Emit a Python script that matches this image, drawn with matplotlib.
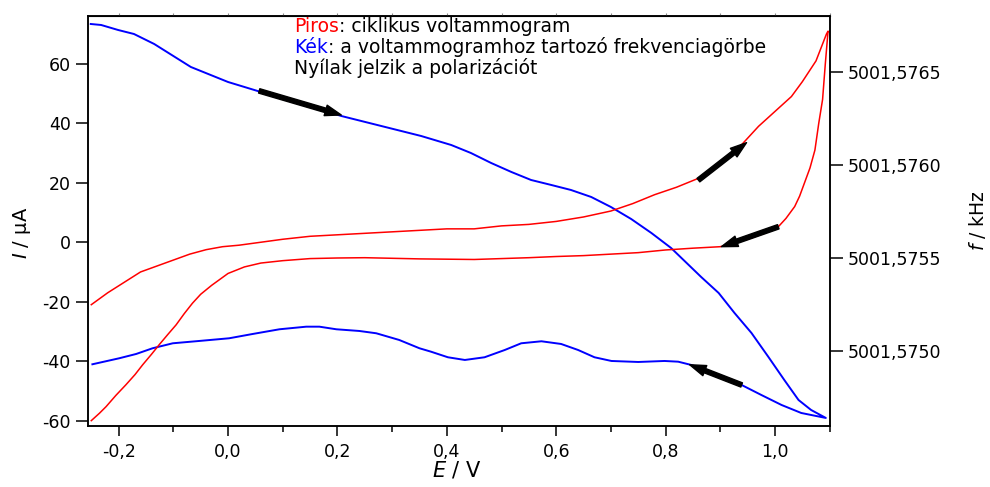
import matplotlib
matplotlib.use("Agg")
import matplotlib.pyplot as plt
from matplotlib.ticker import FuncFormatter, MultipleLocator, FixedLocator

plt.rcParams['font.family'] = ['DejaVu Sans']
plt.rcParams['axes.unicode_minus'] = False

# ciklikus voltammogram (piros), odafelé
red_fwd_E = [-0.25, -0.22, -0.19, -0.16, -0.13, -0.10, -0.07, -0.04, -0.01, 0.02, 0.06, 0.10, 0.15,
             0.20, 0.25, 0.30, 0.35, 0.40, 0.45, 0.50, 0.55, 0.60, 0.65, 0.70, 0.74, 0.78, 0.82,
             0.86, 0.90, 0.94, 0.97, 1.00, 1.03, 1.05, 1.075, 1.094, 1.097]
red_fwd_I = [-21, -17, -13.5, -10, -8, -6, -4, -2.5, -1.5, -1, 0, 1, 2,
             2.5, 3, 3.5, 4, 4.5, 4.5, 5.5, 6, 7, 8.5, 10.5, 13, 16, 18.5,
             21.5, 26, 33, 39, 44, 49, 54, 61, 70, 71]
# visszafelé
red_rev_E = [1.097, 1.092, 1.087, 1.08, 1.073, 1.064, 1.054, 1.045, 1.036, 1.02, 1.006, 0.98, 0.95,
             0.92, 0.90, 0.85, 0.80, 0.75, 0.70, 0.65, 0.60, 0.55, 0.50, 0.45, 0.40, 0.35, 0.30,
             0.25, 0.20, 0.15, 0.10, 0.06, 0.03, 0.0, -0.03, -0.05, -0.065, -0.08, -0.095, -0.11,
             -0.126, -0.14, -0.156, -0.17, -0.187, -0.205, -0.223, -0.235, -0.25]
red_rev_I = [71, 60, 48, 40, 31, 25, 20, 15.5, 12, 8, 5.2, 3, 1,
             -0.5, -1.5, -2, -2.6, -3.5, -4, -4.5, -4.8, -5.2, -5.5, -5.8, -5.7, -5.6, -5.4,
             -5.2, -5.3, -5.5, -6.2, -7, -8.3, -10.5, -14.5, -17.5, -20.5, -24, -27.8, -31,
             -34.5, -37.7, -41.2, -44.5, -48, -51.5, -55.3, -57.5, -60]

# frekvenciagörbe (kék), kHz
blue_E = [-0.251, -0.232, -0.201, -0.172, -0.135, -0.068, 0.000, 0.060, 0.134, 0.207, 0.280,
          0.353, 0.408, 0.444, 0.481, 0.518, 0.554, 0.591, 0.627, 0.664, 0.700, 0.737, 0.774,
          0.810, 0.865, 0.897, 0.926, 0.957, 0.988, 1.017, 1.043, 1.066, 1.093,
          1.048, 1.012, 0.975, 0.939, 0.902, 0.847, 0.823, 0.798, 0.750, 0.701, 0.670, 0.640,
          0.609, 0.573, 0.536, 0.506, 0.469, 0.433, 0.402, 0.371, 0.350, 0.313, 0.271, 0.240,
          0.198, 0.167, 0.143, 0.094, 0.045, 0.002, -0.053, -0.101, -0.138, -0.168, -0.199, -0.248]
blue_f = [5001.5767596, 5001.5767543, 5001.5767274, 5001.5767059, 5001.5766521, 5001.5765285,
          5001.5764478, 5001.5763941, 5001.5763296, 5001.5762651, 5001.5762113, 5001.5761575,
          5001.5761091, 5001.5760661, 5001.5760124, 5001.5759640, 5001.5759210, 5001.5758941,
          5001.5758672, 5001.5758296, 5001.5757758, 5001.5757113, 5001.5756360, 5001.5755554,
          5001.5753995, 5001.5753135, 5001.5752059, 5001.5750984, 5001.5749694, 5001.5748458,
          5001.5747382, 5001.5746845, 5001.5746415,
          5001.5746683, 5001.5747113, 5001.5747651, 5001.5748188, 5001.5748673, 5001.5749264,
          5001.5749441, 5001.5749479, 5001.5749425, 5001.5749479, 5001.5749678, 5001.5750070,
          5001.5750393, 5001.5750538, 5001.5750430, 5001.5750070, 5001.5749678, 5001.5749533,
          5001.5749678, 5001.5749979, 5001.5750162, 5001.5750608, 5001.5750968, 5001.5751092,
          5001.5751183, 5001.5751323, 5001.5751323, 5001.5751183, 5001.5750930, 5001.5750699,
          5001.5750554, 5001.5750430, 5001.5750162, 5001.5749855, 5001.5749624, 5001.5749301]

# nyilak (E, I) -> (E, I), a bal tengely egységeiben
arrows = [((0.057, 50.9), (0.207, 42.8)),
          ((0.86, 20.9), (0.948, 33.5)),
          ((1.006, 5.2), (0.902, -1.5)),
          ((0.939, -48.0), (0.844, -41.2))]

x_ticks = [-0.2, 0.0, 0.2, 0.4, 0.6, 0.8, 1.0]
i_ticks = [-60, -40, -20, 0, 20, 40, 60]
f_ticks = [5001.5750, 5001.5755, 5001.5760, 5001.5765]

fig = plt.figure(figsize=(9.9, 4.87), dpi=100)
ax = fig.add_axes([0.0889, 0.1253, 0.7495, 0.8425])
ax2 = ax.twinx()

ax2.plot(blue_E, blue_f, color='#0000ff', lw=1.4)
ax.plot(red_fwd_E + red_rev_E, red_fwd_I + red_rev_I, color='#ff0000', lw=1.1)
ax.set_zorder(ax2.get_zorder() + 1)
ax.patch.set_visible(False)

for (x0, y0), (x1, y1) in arrows:
    ax.annotate('', xy=(x1, y1), xytext=(x0, y0),
                arrowprops=dict(arrowstyle='simple,head_length=0.9,head_width=0.6,tail_width=0.25',
                                color='k', mutation_scale=13, shrinkA=0, shrinkB=0))

ax.set_xlim(-0.256, 1.1006)
ax.set_ylim(-61.8, 76.2)
ax2.set_ylim(5001.5745984, 5001.5768043)

ax.set_xticks(x_ticks)
ax.xaxis.set_minor_locator(MultipleLocator(0.1))
ax.set_yticks(i_ticks)
ax2.set_yticks(f_ticks)
ax.xaxis.set_major_formatter(FuncFormatter(lambda v, p: f'{v:.1f}'.replace('.', ',').replace('-0,0', '0,0')))
ax.yaxis.set_major_formatter(FuncFormatter(lambda v, p: f'{v:.0f}'))
ax2.yaxis.set_major_formatter(FuncFormatter(lambda v, p: f'{v:.4f}'.replace('.', ',')))

ax.tick_params(axis='both', which='major', labelsize=12.5, length=7, width=1.1, direction='out')
ax.tick_params(axis='x', which='minor', length=4, width=1.1)
ax.tick_params(axis='y', which='major', length=9)
ax.tick_params(axis='x', which='major', pad=5)
ax2.tick_params(axis='y', labelsize=12.5, length=9, width=1.1, direction='out')

# apró jelek a felső tengelyen
top = ax.secondary_xaxis('top')
top.xaxis.set_major_locator(FixedLocator([-0.2 + 0.1 * k for k in range(14)]))
top.tick_params(length=2, width=0.8, color='#888888', labeltop=False)

for a in (ax, ax2):
    for s in a.spines.values():
        s.set_linewidth(1.1)

fig.text(0.0222, 0.5216, '$I$ / µA', rotation=90, ha='center', va='center', fontsize=14)
fig.text(0.4616, 0.035, '$E$ / V', ha='center', va='center', fontsize=15)
fig.text(0.9875, 0.546, '$f$ / kHz', rotation=90, ha='center', va='center', fontsize=13.5)

# magyarázó szöveg
fs = 13.5
t1 = fig.text(0.297, 0.945, 'Piros', color='#ff0000', fontsize=fs, va='center')
ax.annotate(': ciklikus voltammogram', xy=(1, 0), xycoords=t1, va='bottom', fontsize=fs)
t2 = fig.text(0.297, 0.903, 'Kék', color='#0000ff', fontsize=fs, va='center')
ax.annotate(': a voltammogramhoz tartozó frekvenciagörbe', xy=(1, 0), xycoords=t2, va='bottom', fontsize=fs)
fig.text(0.297, 0.861, 'Nyílak jelzik a polarizációt', fontsize=fs, va='center')

fig.savefig('out.png', dpi=100)
